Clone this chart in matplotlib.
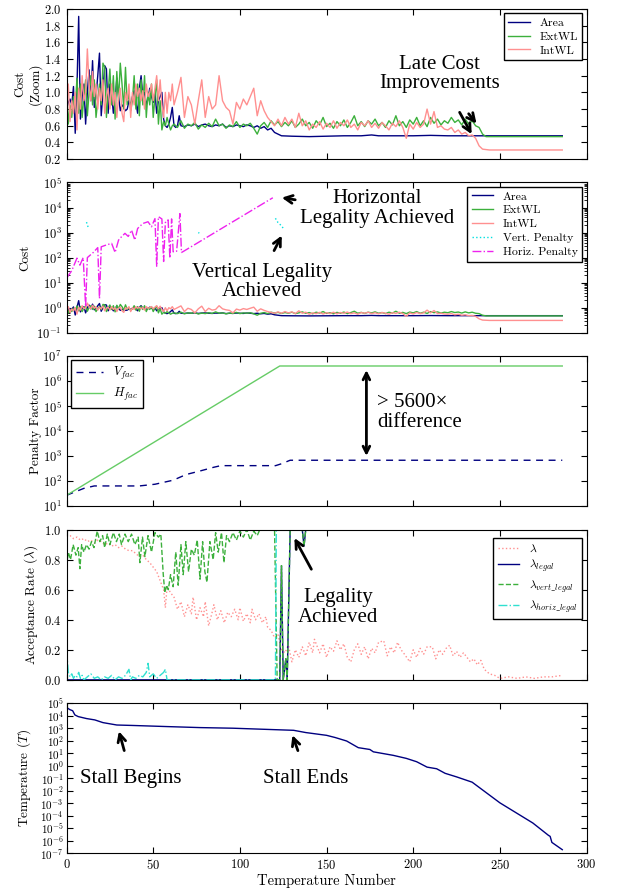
import matplotlib
matplotlib.use("Agg")
import matplotlib.pyplot as plt
import numpy as np

plt.rcParams.update({
    "font.family": "serif",
    "font.serif": ["cmr10"],
    "mathtext.fontset": "cm",
    "axes.formatter.use_mathtext": True,
    "axes.unicode_minus": False,
    "font.size": 10,
    "xtick.direction": "in",
    "ytick.direction": "in",
    "xtick.top": True,
    "ytick.right": True,
    "xtick.major.size": 4,
    "ytick.major.size": 4,
    "xtick.minor.size": 2,
    "ytick.minor.size": 2,
    "legend.fancybox": False,
    "legend.edgecolor": "k",
    "legend.framealpha": 1.0,
    "legend.labelspacing": 0.3,
})
ANNOT = dict(family="Liberation Serif", fontsize=15)

nan = np.nan

# ---- cost series (same data in panel 1 and 2) ----
area_x = list(range(0, 67)) + list(range(68, 126, 2)) + [130, 140, 150, 160, 170, 176, 180, 190,
                                                          200, 210, 220, 230, 240, 260, 286]
area = [0.80, 0.88, 0.92, 0.85, 1.07, 0.51, 1.05, 1.91,
        0.68, 0.95, 1.10, 0.62, 1.00, 1.27, 0.90, 1.38,
        0.82, 0.95, 1.20, 1.47, 0.72, 1.00, 1.32, 1.28,
        0.75, 1.10, 0.98, 0.75, 0.90, 1.17, 0.95, 0.78,
        0.85, 0.82, 0.78, 0.80, 0.90, 0.85, 0.95, 1.02,
        0.88, 0.75, 1.05, 1.20, 0.95, 1.00, 0.85, 0.92,
        1.05, 0.95, 0.88, 1.00, 0.75, 0.90, 0.95, 1.00,
        0.68, 0.60, 0.58, 0.62, 0.70, 0.82, 0.60, 0.58,
        0.60, 0.72, 0.60,
        0.59, 0.61, 0.60, 0.62, 0.59, 0.61, 0.62, 0.60, 0.59, 0.61,
        0.60, 0.62, 0.58, 0.60, 0.59, 0.61, 0.60, 0.59, 0.61, 0.60,
        0.58, 0.60, 0.57, 0.59, 0.55, 0.57, 0.52, 0.50, 0.48,
        0.475, 0.47, 0.475, 0.48, 0.48, 0.49, 0.48, 0.48, 0.48, 0.485, 0.48, 0.48, 0.48, 0.48, 0.48]

ext_x = list(range(0, 63)) + list(range(64, 242, 2)) + [242, 250, 286]
extwl = [1.05, 0.62, 0.85, 0.70, 0.95, 0.80, 1.17, 0.75,
         1.10, 0.70, 0.95, 1.15, 0.72, 1.00, 1.20, 0.85,
         1.15, 0.70, 0.90, 1.10, 0.85, 1.35, 1.30, 0.70,
         1.00, 1.28, 0.85, 1.20, 0.68, 1.25, 0.90, 1.35,
         1.10, 0.80, 1.30, 0.85, 1.00, 0.78, 0.90, 1.20,
         0.80, 1.10, 0.72, 1.15, 0.85, 1.20, 0.70, 1.00,
         0.85, 1.10, 0.70, 0.95, 1.15, 0.62, 0.90, 0.55,
         0.65, 0.60, 0.70, 0.62, 0.55, 0.60, 0.62,
         0.58, 0.66, 0.57, 0.62, 0.60, 0.64, 0.56, 0.61, 0.58, 0.63,
         0.59, 0.68, 0.60, 0.62, 0.57, 0.61, 0.59, 0.65, 0.58, 0.62,
         0.60, 0.63, 0.57, 0.50, 0.60, 0.64, 0.58, 0.66, 0.61, 0.65,
         0.59, 0.64, 0.60, 0.66, 0.58, 0.62, 0.68, 0.60, 0.64, 0.57,
         0.66, 0.61, 0.70, 0.59, 0.63, 0.57, 0.65, 0.60, 0.67, 0.58,
         0.64, 0.72, 0.60, 0.65, 0.59, 0.66, 0.62, 0.68, 0.60, 0.64,
         0.58, 0.66, 0.61, 0.72, 0.60, 0.65, 0.58, 0.67, 0.62, 0.70,
         0.60, 0.66, 0.59, 0.70, 0.63, 0.68, 0.61, 0.66, 0.63, 0.70,
         0.64, 0.67, 0.61, 0.68, 0.62, 0.66, 0.60, 0.58, 0.50,
         0.47, 0.47, 0.47]

int_x = list(range(0, 63)) + list(range(64, 242, 2)) + [244, 286]
intwl = [0.85, 1.10, 0.65, 0.90, 0.75, 1.00, 0.55, 1.05,
         0.80, 1.20, 0.90, 1.00, 1.52, 1.10, 0.90, 1.25,
         0.95, 1.10, 0.80, 1.05, 0.90, 1.15, 0.75, 0.95,
         1.05, 0.80, 1.10, 0.85, 1.00, 0.70, 0.95, 1.05,
         0.75, 0.65, 1.00, 0.90, 1.10, 0.70, 1.00, 0.85,
         1.10, 0.95, 1.05, 0.90, 1.02, 0.80, 1.10, 0.95,
         1.00, 1.10, 0.90, 1.05, 1.20, 0.90, 1.15, 0.85,
         0.70, 1.00, 0.75, 1.00, 0.90, 1.10, 0.85,
         1.00, 1.18, 0.70, 0.95, 0.85, 0.62, 0.90, 1.15, 0.70, 0.95,
         0.80, 0.85, 1.20, 0.90, 0.82, 0.78, 0.62, 0.88, 0.80, 0.92,
         0.85, 0.95, 1.05, 0.72, 0.90, 0.78, 0.70, 0.65, 0.60, 0.68,
         0.60, 0.70, 0.62, 0.68, 0.58, 0.75, 0.60, 0.66, 0.55, 0.62,
         0.58, 0.65, 0.56, 0.63, 0.58, 0.66, 0.57, 0.64, 0.60, 0.67,
         0.58, 0.62, 0.55, 0.64, 0.60, 0.66, 0.58, 0.63, 0.57, 0.64,
         0.60, 0.55, 0.63, 0.59, 0.66, 0.58, 0.45, 0.62, 0.56, 0.64,
         0.58, 0.62, 0.80, 0.62, 0.77, 0.58, 0.60, 0.56, 0.55, 0.58,
         0.52, 0.55, 0.50, 0.52, 0.48, 0.49, 0.45, 0.36, 0.32,
         0.31, 0.31]

# ---- penalties (panel 2) ----
hpen_x = [0, 3, 6, 7.7, 9.6, 11, 12, 15.4, 18, 19, 20, 23, 26, 28, 30, 31.7, 33.7, 35.6, 37.5, 39.4,
          41, 44, 47, 49, 51, 52, 53, 55, 56, 57, 58.6, 59.6, 60.6, 61.5, 63.5, 65.4, 66.3, 67, 119]
hpen = [15, 30, 95, 50, 100, 1.1, 100, 160, 250, 2.3, 270, 320, 370, 160, 500, 680, 930, 700, 1250, 500,
        1450, 2300, 2700, 1700, 3600, 45, 4300, 3500, 70, 2500, 3200, 95, 3500, 170, 180, 5700, 160, 170,
        24500]
vpen_x = [11.5, 12.5, 13, 76, 76.6, 77, 120.5, 122, 123.5, 125]
vpen = [2600, 1600, nan, 1000, 950, nan, 3700, 2500, 2000, 1500]

# ---- penalty factors (panel 3) ----
hfac_x = [0, 123, 286]
hfac = [27.5, 4.0e6, 4.0e6]
vfac_x = [0, 5, 10, 16, 42, 51, 61.5, 69, 77, 85, 89, 120.6, 124, 129, 286]
vfac = [27.5, 38, 52, 65, 65, 76, 110, 186, 257, 363, 420, 420, 500, 690, 690]

# ---- acceptance rates (panel 4) ----
lam_x = [0, 2, 4, 6, 8, 10, 12, 14, 16, 18,
         20, 22, 24, 26, 28, 30, 32, 34, 36, 38,
         40, 42, 44, 46, 48, 50, 52, 54, 56, 57,
         58, 60, 62, 64, 66, 68, 70, 72, 73, 75,
         77, 79, 80, 82, 84, 85, 87, 89, 91, 93,
         95, 97, 99, 100, 102, 104, 106, 107, 109, 111,
         113, 115, 116, 118, 120, 122, 124, 126, 128, 130,
         132, 134, 136, 138, 140, 142, 143, 146, 148, 150,
         152, 154, 156, 158, 160, 162, 164, 166, 168, 170,
         172, 174, 176, 178, 180, 183, 185, 187, 189, 191,
         193, 195, 198, 200, 202, 204, 206, 208, 211, 213,
         215, 217, 219, 221, 223, 225, 227, 229, 231, 233,
         235, 237, 239, 241, 244, 247, 250, 255, 260, 265,
         270, 275, 280, 286]
lam = [0.95, 0.96, 0.94, 0.95, 0.93, 0.94, 0.92, 0.93, 0.91, 0.93,
       0.92, 0.90, 0.91, 0.89, 0.90, 0.88, 0.89, 0.87, 0.86, 0.86,
       0.84, 0.82, 0.83, 0.80, 0.78, 0.75, 0.72, 0.66, 0.60, 0.48,
       0.62, 0.58, 0.55, 0.47, 0.52, 0.42, 0.50, 0.44, 0.55, 0.40,
       0.48, 0.42, 0.52, 0.36, 0.45, 0.50, 0.40, 0.46, 0.38, 0.45,
       0.42, 0.47, 0.40, 0.48, 0.39, 0.44, 0.38, 0.47, 0.40, 0.44,
       0.38, 0.42, 0.35, 0.33, 0.28, 0.30, 0.20, 0.18, 0.23, 0.12,
       0.20, 0.15, 0.22, 0.16, 0.25, 0.18, 0.27, 0.18, 0.24, 0.15,
       0.22, 0.19, 0.26, 0.20, 0.24, 0.15, 0.12, 0.20, 0.24, 0.17,
       0.22, 0.14, 0.21, 0.18, 0.25, 0.26, 0.16, 0.22, 0.18, 0.25,
       0.20, 0.17, 0.12, 0.20, 0.15, 0.21, 0.17, 0.22, 0.22, 0.14,
       0.20, 0.17, 0.21, 0.23, 0.16, 0.19, 0.15, 0.18, 0.15, 0.12,
       0.14, 0.10, 0.13, 0.07, 0.04, 0.03, 0.01, 0.02, 0.01, 0.02,
       0.01, 0.02, 0.02, 0.03]

leg_x = [0, 123, 124, 125, 126.5, 127.3, 129, 136, 137, 138, 286]
lam_legal = [0, 0, 0.76, 0, 0.14, 0, 1.0, 1.0, 0.89, 1.0, 1.0]

vleg_x = [0, 1, 2.3, 3.8, 5.4, 6.7, 7.7, 8.7, 10, 11.5,
          13, 14.4, 15.8, 17.7, 19.2, 20.8, 22, 23.5, 25, 27,
          28.8, 30.4, 31.7, 33.7, 35.6, 37.5, 39.4, 41.3, 42.3, 43.8,
          45.2, 47, 49, 51, 53, 54.4, 55.8, 56.7, 57.7, 58.7,
          60, 61.5, 63, 64.4, 66, 67.3, 68.8, 70.4, 72, 73.7,
          75.4, 77, 78.5, 79.8, 81, 82.7, 84.6, 86, 87.5, 89.4,
          90.8, 92.3, 94, 96, 98, 100, 102, 104, 106, 108,
          110, 111.5, 120, 121.5, 123, 124, 125, 126.5, 127.3, 129,
          136, 137, 138, 286]
lam_vert_legal = [0.76, 0.85, 0.80, 0.90, 0.83, 0.88, 0.74, 0.90, 0.85, 0.90,
                  0.87, 0.92, 0.88, 0.99, 0.92, 0.96, 0.88, 0.97, 0.90, 0.98,
                  0.92, 0.97, 0.90, 0.97, 0.92, 0.97, 0.90, 0.95, 0.78, 0.95,
                  0.82, 0.96, 0.85, 0.98, 0.95, 0.97, 0.70, 0.58, 0.63, 0.60,
                  0.70, 0.62, 0.85, 0.63, 0.90, 0.70, 0.92, 0.72, 0.87, 0.83,
                  0.93, 0.67, 0.92, 0.72, 0.65, 0.92, 0.80, 0.98, 0.85, 0.98,
                  0.78, 0.96, 0.92, 0.98, 0.93, 0.99, 0.95, 1.0, 0.93, 0.99,
                  0.96, 1.0, 1.0, 0.0, 0.0, 0.76, 0.0, 0.14, 0.0, 1.0,
                  1.0, 0.89, 1.0, 1.0]

hleg_x = [0, 1, 2, 3, 4, 5, 6, 7, 8, 9, 10, 12, 14, 16, 18, 20, 22, 24, 26, 28, 30, 32, 34, 36, 37, 38,
          40, 42, 44, 46, 47, 48, 50, 52, 54, 56, 57, 58, 120.5, 121, 286]
lam_horiz_legal = [0.20, 0.05, 0.02, 0.04, 0.01, 0.03, 0.02, 0.05, 0.01, 0.03, 0.0, 0.02, 0.04, 0.01,
                   0.02, 0.0, 0.02, 0.01, 0.03, 0.0, 0.02, 0.01, 0.03, 0.07, 0.0, 0.02, 0.01, 0.03,
                   0.02, 0.05, 0.11, 0.02, 0.04, 0.01, 0.03, 0.05, 0.07, 0.0, 0.0, 1.0, 1.0]

# ---- temperature (panel 5) ----
temp_x = [0, 2, 3.5, 4.8, 6.7, 11.5, 16.3, 21, 29, 38, 58, 77, 96, 115, 131, 138, 146, 150, 155, 161.6,
          168.3, 175, 177, 188.5, 196, 202, 208, 213.5, 218.4, 225, 234, 250, 269, 278, 279, 280, 286]
temp = [4.5e4, 3.0e4, 2.5e4, 1.15e4, 8.5e3, 5.9e3, 4.6e3, 2.8e3, 1.8e3, 1.66e3, 1.35e3, 1.12e3, 1.0e3,
        8.1e2, 6.8e2, 4.5e2, 3.2e2, 2.7e2, 1.8e2, 9.5e1, 2.8e1, 2.0e1, 1.3e1, 6.8, 3.9, 2.1, 0.78, 0.58,
        0.25, 0.13, 4.9e-2, 1.1e-3, 2.7e-5, 2.8e-6, 2.3e-6, 7.6e-7, 2.0e-7]

c_area = "#000080"
c_ext = "#3cb03c"
c_int = "#ff9090"

fig, axs = plt.subplots(5, 1, sharex=True, figsize=(6.22, 8.89), dpi=100,
                        gridspec_kw=dict(left=0.107, right=0.943, top=0.99, bottom=0.04, hspace=0.155))
ax1, ax2, ax3, ax4, ax5 = axs
arrow = dict(arrowstyle="->", lw=2, color="k", mutation_scale=14)

# panel 1
ax1.plot(area_x, area, color=c_area, lw=1, label="Area")
ax1.plot(ext_x, extwl, color=c_ext, lw=1, label="ExtWL")
ax1.plot(int_x, intwl, color=c_int, lw=1, label="IntWL")
ax1.set_ylim(0.2, 2.0)
ax1.set_yticks(np.arange(0.2, 2.01, 0.2))
ax1.set_ylabel("Cost\n(Zoom)", fontsize=9.5)
ax1.legend(loc="upper right", fontsize=8.5, handlelength=1.8, borderaxespad=0.35)
ax1.text(215, 1.22, "Late Cost\nImprovements", ha="center", va="center", linespacing=1.05, **ANNOT)
ax1.annotate("", xy=(234.5, 0.47), xytext=(226, 0.79), arrowprops=arrow)
ax1.annotate("", xy=(237.5, 0.6), xytext=(231, 0.77), arrowprops=arrow)

# panel 2
ax2.plot(area_x, area, color=c_area, lw=1, label="Area")
ax2.plot(ext_x, extwl, color=c_ext, lw=1, label="ExtWL")
ax2.plot(int_x, intwl, color=c_int, lw=1, label="IntWL")
ax2.plot(vpen_x, vpen, color="#00e0e0", lw=1, ls=":", label="Vert. Penalty")
ax2.plot(hpen_x, hpen, color="#ee22ee", lw=1, ls="-.", label="Horiz. Penalty")
ax2.set_yscale("log")
ax2.set_ylim(0.1, 1e5)
ax2.set_yticks([10.0 ** k for k in range(-1, 6)])
ax2.set_ylabel("Cost", fontsize=9.5)
ax2.legend(loc="upper right", fontsize=8.5, handlelength=1.8, borderaxespad=0.35)
ax2.text(179, 10**3.95, "Horizontal\nLegality Achieved", ha="center", va="center",
         linespacing=1.05, **ANNOT)
ax2.annotate("", xy=(122.6, 10**4.41), xytext=(133.5, 10**4.29), arrowprops=arrow)
ax2.text(112.7, 10**1.02, "Vertical Legality\nAchieved", ha="center", va="center",
         linespacing=1.05, **ANNOT)
ax2.annotate("", xy=(124.9, 10**2.98), xytext=(119, 10**2.18), arrowprops=arrow)

# panel 3
ax3.plot(vfac_x, vfac, color=c_area, lw=1, ls=(0, (5, 4)), label="$V_{fac}$")
ax3.plot(hfac_x, hfac, color="#66cc66", lw=1, label="$H_{fac}$")
ax3.set_yscale("log")
ax3.set_ylim(10, 1e7)
ax3.set_yticks([10.0 ** k for k in range(1, 8)])
ax3.set_ylabel("Penalty Factor", fontsize=9.5)
ax3.legend(loc="upper left", fontsize=9, handlelength=2.2, borderaxespad=0.35)
ax3.annotate("", xy=(173, 10**6.55), xytext=(173, 10**2.9),
             arrowprops=dict(arrowstyle="<->", lw=2, color="k", mutation_scale=12))
ax3.text(179, 10**4.75, "> 5600×\ndifference", ha="left", va="center", linespacing=1.05, **ANNOT)

# panel 4
ax4.plot(lam_x, lam, color=c_int, lw=1, ls=":", label="$\\lambda$")
ax4.plot(leg_x, lam_legal, color=c_area, lw=1, label="$\\lambda_{legal}$")
ax4.plot(vleg_x, lam_vert_legal, color=c_ext, lw=1, ls="--", label="$\\lambda_{vert\\_legal}$")
ax4.plot(hleg_x, lam_horiz_legal, color="#30e0d0", lw=1, ls="-.", label="$\\lambda_{horiz\\_legal}$")
ax4.set_ylim(0, 1.0)
ax4.set_yticks(np.arange(0, 1.01, 0.2))
ax4.set_ylabel("Acceptance Rate ($\\lambda$)", fontsize=9.5)
ax4.legend(loc="upper right", fontsize=8.5, handlelength=1.8, borderaxespad=0.35,
           bbox_to_anchor=(1.0, 0.97))
ax4.text(156.5, 0.48, "Legality\nAchieved", ha="center", va="center", linespacing=1.05, **ANNOT)
ax4.annotate("", xy=(130.7, 0.96), xytext=(142, 0.72), arrowprops=arrow)

# panel 5
ax5.plot(temp_x, temp, color=c_area, lw=1)
ax5.set_yscale("log")
ax5.set_ylim(1e-7, 1e5)
ax5.set_yticks([10.0 ** k for k in range(-7, 6)])
ax5.minorticks_off()
ax5.set_ylabel("Temperature ($T$)", fontsize=9.5)
ax5.set_xlabel("Temperature Number", fontsize=10.5, labelpad=1)
ax5.text(37, 10**-1.0, "Stall Begins", ha="center", va="center", **ANNOT)
ax5.annotate("", xy=(29.8, 10**2.97), xytext=(33.7, 10**1.0), arrowprops=arrow)
ax5.text(138, 10**-1.0, "Stall Ends", ha="center", va="center", **ANNOT)
ax5.annotate("", xy=(129.8, 10**2.65), xytext=(134, 10**1.0), arrowprops=arrow)

ax5.set_xlim(0, 300)
ax5.set_xticks(range(0, 301, 50))
label_x = [-0.0475, -0.0686, -0.0475, -0.051, -0.065]
for ax, lx in zip(axs, label_x):
    ax.tick_params(labelsize=9)
    ax.yaxis.set_label_coords(lx, 0.5)
ax5.tick_params(axis="y", labelsize=8, pad=2)

fig.savefig("out.png", dpi=100)
